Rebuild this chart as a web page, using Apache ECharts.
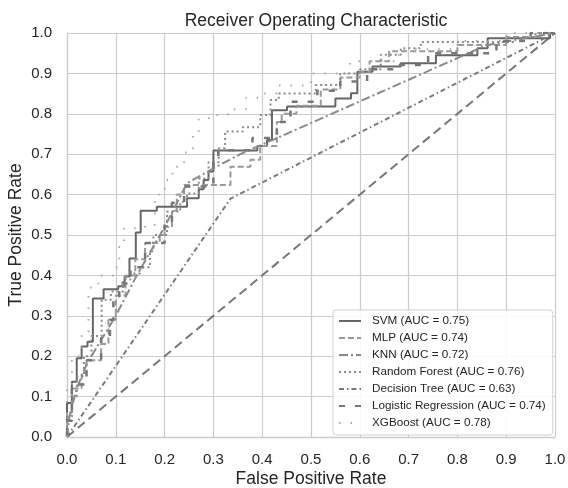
<!DOCTYPE html>
<html><head><meta charset="utf-8">
<script src="https://cdn.jsdelivr.net/npm/echarts@6/dist/echarts.min.js"></script>
<style>html,body{margin:0;padding:0;background:#fff}#c{width:568px;height:488px}</style>
</head><body><div id="c"></div>
<script>
const titleText = 'Receiver Operating Characteristic';
const xName = 'False Positive Rate';
const yName = 'True Positive Rate';
const tickValues = [0,0.1,0.2,0.3,0.4,0.5,0.6,0.7,0.8,0.9,1.0];

const seriesNames = ['SVM (AUC = 0.75)','MLP (AUC = 0.74)','KNN (AUC = 0.72)','Random Forest (AUC = 0.76)','Decision Tree (AUC = 0.63)','Logistic Regression (AUC = 0.74)','XGBoost (AUC = 0.78)'];

const svmFpr = [0,0,0.01,0.01,0.02,0.02,0.03,0.03,0.042,0.042,0.053,0.053,0.075,0.075,0.105,0.105,0.118,0.118,0.128,0.128,0.141,0.141,0.151,0.151,0.184,0.184,0.246,0.246,0.27,0.27,0.28,0.28,0.29,0.29,0.30,0.30,0.39,0.39,0.41,0.41,0.42,0.42,0.451,0.451,0.55,0.55,0.582,0.582,0.595,0.595,0.626,0.626,0.684,0.684,0.756,0.756,0.841,0.841,0.862,0.862,0.99,0.99,1];
const svmTpr = [0,0.084,0.084,0.137,0.137,0.195,0.195,0.224,0.224,0.236,0.236,0.343,0.343,0.366,0.366,0.373,0.373,0.397,0.397,0.442,0.442,0.506,0.506,0.56,0.56,0.57,0.57,0.591,0.591,0.613,0.613,0.636,0.636,0.657,0.657,0.709,0.709,0.72,0.72,0.735,0.735,0.809,0.809,0.818,0.818,0.838,0.838,0.851,0.851,0.904,0.904,0.917,0.917,0.925,0.925,0.945,0.945,0.962,0.962,0.987,0.987,1,1];

const mlpFpr = [0,0,0.01,0.01,0.03,0.03,0.04,0.04,0.07,0.07,0.085,0.085,0.1,0.1,0.12,0.12,0.14,0.14,0.16,0.16,0.19,0.19,0.2,0.2,0.215,0.215,0.225,0.225,0.24,0.24,0.335,0.335,0.376,0.376,0.396,0.396,0.43,0.43,0.44,0.44,0.47,0.47,0.52,0.52,0.56,0.56,0.6,0.6,0.62,0.62,0.66,0.66,0.8,0.8,0.9,0.9,0.97,0.97,1];
const mlpTpr = [0,0.06,0.06,0.12,0.12,0.16,0.16,0.19,0.19,0.23,0.23,0.29,0.29,0.35,0.35,0.40,0.40,0.44,0.44,0.48,0.48,0.50,0.50,0.52,0.52,0.56,0.56,0.60,0.60,0.624,0.624,0.669,0.669,0.686,0.686,0.72,0.72,0.78,0.78,0.80,0.80,0.82,0.82,0.86,0.86,0.89,0.89,0.905,0.905,0.93,0.93,0.955,0.955,0.97,0.97,0.99,0.99,1,1];

const knnFpr = [0,0.005,0.02,0.04,0.07,0.1,0.143,0.2,0.246,0.3,0.355,0.44,0.86,1];
const knnTpr = [0,0.05,0.12,0.18,0.24,0.3,0.40,0.52,0.628,0.665,0.70,0.745,0.97,1];

const rfFpr = [0,0,0.01,0.01,0.02,0.02,0.035,0.035,0.05,0.05,0.071,0.071,0.09,0.09,0.115,0.115,0.13,0.13,0.15,0.15,0.17,0.17,0.177,0.177,0.205,0.205,0.232,0.232,0.246,0.246,0.27,0.27,0.29,0.29,0.311,0.311,0.324,0.324,0.36,0.36,0.396,0.396,0.417,0.417,0.434,0.434,0.51,0.51,0.56,0.56,0.6,0.6,0.643,0.643,0.684,0.684,0.725,0.725,0.916,0.916,0.96,0.96,1];
const rfTpr = [0,0.05,0.05,0.1,0.1,0.15,0.15,0.2,0.2,0.25,0.25,0.34,0.34,0.36,0.36,0.39,0.39,0.405,0.405,0.42,0.42,0.46,0.46,0.5,0.5,0.558,0.558,0.582,0.582,0.603,0.603,0.64,0.64,0.68,0.68,0.715,0.715,0.756,0.756,0.767,0.767,0.797,0.797,0.834,0.834,0.85,0.85,0.871,0.871,0.9,0.9,0.91,0.91,0.946,0.946,0.962,0.962,0.978,0.978,0.99,0.99,1,1];

const dtFpr = [0,0.335,1];
const dtTpr = [0,0.59,1];

const lrFpr = [0,0,0.01,0.01,0.04,0.04,0.07,0.07,0.088,0.088,0.095,0.095,0.107,0.107,0.13,0.13,0.16,0.16,0.2,0.2,0.215,0.215,0.24,0.24,0.3,0.3,0.31,0.31,0.38,0.38,0.43,0.43,0.458,0.458,0.513,0.513,0.56,0.56,0.615,0.615,0.667,0.667,0.74,0.74,0.88,0.88,0.95,0.95,1];
const lrTpr = [0,0.04,0.04,0.13,0.13,0.19,0.19,0.25,0.25,0.29,0.29,0.34,0.34,0.38,0.38,0.42,0.42,0.48,0.48,0.53,0.53,0.58,0.58,0.62,0.62,0.686,0.686,0.71,0.71,0.74,0.74,0.78,0.78,0.83,0.83,0.857,0.857,0.88,0.88,0.91,0.91,0.921,0.921,0.95,0.95,0.98,0.98,1,1];

const xgbFpr = [0,0,0.01,0.01,0.03,0.03,0.044,0.044,0.064,0.064,0.099,0.099,0.107,0.107,0.117,0.117,0.16,0.16,0.18,0.18,0.2,0.2,0.216,0.216,0.24,0.24,0.258,0.258,0.27,0.27,0.291,0.291,0.33,0.33,0.367,0.367,0.393,0.393,0.434,0.434,0.5,0.5,0.58,0.58,0.68,0.68,0.8,0.8,0.9,0.9,1];
const xgbTpr = [0,0.13,0.13,0.2,0.2,0.26,0.26,0.37,0.37,0.40,0.40,0.42,0.42,0.47,0.47,0.517,0.517,0.525,0.525,0.6,0.6,0.636,0.636,0.669,0.669,0.704,0.704,0.753,0.753,0.786,0.786,0.797,0.797,0.811,0.811,0.84,0.84,0.85,0.85,0.87,0.87,0.9,0.9,0.93,0.93,0.96,0.96,0.98,0.98,1,1];

const diagFpr = [0,1];
const diagTpr = [0,1];

function pts(xs, ys){ return xs.map((x,i)=>[x, ys[i]]); }

const styles = [
  {color:'#666666', width:2, type:'solid'},
  {color:'#9a9a9a', width:2, type:[6,3]},
  {color:'#8a8a8a', width:2, type:[9,3,2,3]},
  {color:'#8a8a8a', width:2, type:[2,3]},
  {color:'#7a7a7a', width:2, type:[5,3,1.5,3]},
  {color:'#777777', width:2.5, type:[6,10]},
  {color:'#aaaaaa', width:2, type:[1.5,10]}
];
const dataSets = [pts(svmFpr,svmTpr),pts(mlpFpr,mlpTpr),pts(knnFpr,knnTpr),pts(rfFpr,rfTpr),pts(dtFpr,dtTpr),pts(lrFpr,lrTpr),pts(xgbFpr,xgbTpr)];

const series = dataSets.map((d,i)=>({
  name: seriesNames[i], type:'line', data:d, symbol:'none', showSymbol:false,
  lineStyle:{color:styles[i].color, width:styles[i].width, type:styles[i].type},
  itemStyle:{color:styles[i].color}, animation:false, z: 3
}));
series.push({name:'diag', type:'line', data:pts(diagFpr,diagTpr), symbol:'none', lineStyle:{color:'#777777', width:2, type:[9,5]}, animation:false, z:2});

const FONT = 'Liberation Sans, Arial, sans-serif';
const fmt = v => v.toFixed(1);
const axisCommon = {
  type:'value', min:0, max:1, interval:0.1,
  axisLine:{show:true, lineStyle:{color:'#cccccc', width:1.3}},
  axisTick:{show:false},
  splitLine:{show:true, lineStyle:{color:'#cccccc', width:1.2}},
  axisLabel:{formatter:fmt, color:'#262626', fontSize:15, fontFamily:FONT},
  nameLocation:'middle',
  nameMoveOverlap:false,
  nameTextStyle:{color:'#262626', fontSize:17.5, fontFamily:FONT}
};

const chart = echarts.init(document.getElementById('c'), null, {renderer:'canvas'});
chart.setOption({
  backgroundColor:'#ffffff',
  animation:false,
  title:{text:titleText, left:311, textAlign:'center', top:7, textStyle:{fontSize:17.5, fontWeight:'normal', color:'#262626', fontFamily:FONT}},
  grid:{left:67, right:13, top:33, bottom:51, containLabel:false, outerBoundsMode:'none'},
  xAxis:Object.assign({}, axisCommon, {name:xName, nameGap:33, axisLabel:Object.assign({}, axisCommon.axisLabel, {margin:15})}),
  yAxis:Object.assign({}, axisCommon, {name:yName, nameGap:42, axisLabel:Object.assign({}, axisCommon.axisLabel, {margin:15})}),
  legend:{
    data: seriesNames, orient:'vertical', left:333, top:310,
    itemWidth:22, itemHeight:10, itemGap:5,
    padding:[5,7,6,5],
    itemStyle:{opacity:0},
    backgroundColor:'rgba(255,255,255,0.85)', borderColor:'#d0d0d0', borderWidth:1, borderRadius:3,
    textStyle:{fontSize:11.7, color:'#262626', fontFamily:FONT, padding:[0,0,0,6]}
  },
  series: series
});
</script></body></html>
